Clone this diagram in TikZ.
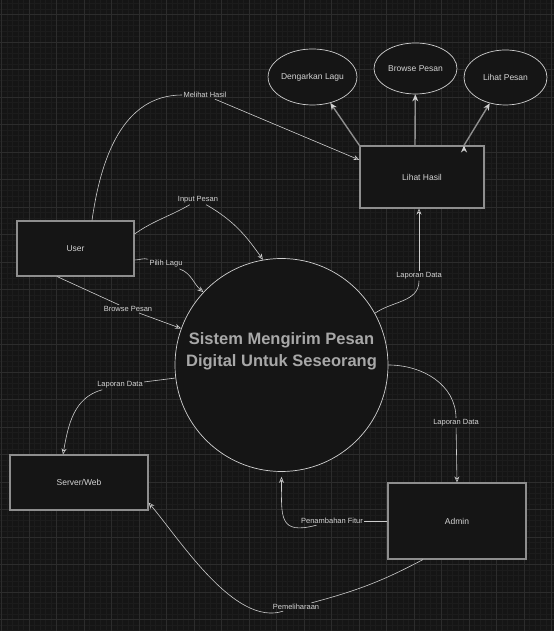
\documentclass[tikz,border=0pt]{standalone}
\usepackage{fontspec}
\setmainfont{Liberation Sans}
\usepackage{tikz}
\usetikzlibrary{arrows.meta,shapes.geometric}

\definecolor{bgc}{HTML}{151515}
\definecolor{gridmaj}{HTML}{2C2C2C}
\definecolor{gridmin}{HTML}{1C1C1C}
\definecolor{boxline}{HTML}{8E8E8E}
\definecolor{ovalline}{HTML}{D0D0D0}
\definecolor{flowline}{HTML}{CDCDCD}
\definecolor{txt}{HTML}{D4D4D4}
\definecolor{titletxt}{HTML}{A8A8A8}

\tikzset{
  entity/.style={draw=boxline,line width=1.1pt,fill=bgc,text=txt,
    font=\fontsize{8.5}{10}\selectfont,inner sep=0pt},
  oval/.style={ellipse,draw=ovalline,line width=0.7pt,fill=bgc,text=txt,
    font=\fontsize{8.5}{10}\selectfont,inner sep=0pt,minimum width=83pt},
  bubble/.style={circle,draw=ovalline,line width=0.7pt,fill=bgc,
    minimum size=213pt,inner sep=0pt},
  titletext/.style={text=titletxt,align=center,
    font=\fontsize{16.5}{22}\selectfont\bfseries},
  lbl/.style={text=txt,font=\fontsize{7.5}{9}\selectfont,inner sep=1.2pt},
  flow/.style={draw=flowline,line width=0.6pt},
  branch/.style={draw=boxline,line width=1.4pt,
    -{Stealth[length=7pt,width=6pt,color=ovalline]}}
}

\begin{document}
\begin{tikzpicture}[x=1pt,y=1pt,>={Stealth[length=6pt,width=5pt]}]
		\fill[bgc] (0,0) rectangle (554,631);
		\useasboundingbox (0,0) rectangle (554,631);
		\draw[gridmin,line width=0.4pt,shift={(1.5,11.5)},step=5.5pt] (-1.5,-11.5) grid (552.5,619.5);
		\draw[gridmaj,line width=0.6pt,shift={(1.5,11.5)},step=27.5pt] (-1.5,-11.5) grid (552.5,619.5);
		%
		\node[entity,minimum width=117pt,minimum height=55pt] (user) at (75.5,382.5) {User};
		\node[entity,minimum width=124pt,minimum height=62pt] (lihat) at (422,454) {Lihat Hasil};
		\node[entity,minimum width=138pt,minimum height=55pt] (server) at (79,148.5) {Server/Web};
		\node[entity,minimum width=138pt,minimum height=76pt] (admin) at (457,110) {Admin};
		\node[oval,minimum height=56pt] (dengar) at (312.5,554) {Dengarkan Lagu};
		\node[oval,minimum height=51pt] (browse) at (415.5,562.5) {Browse Pesan};
		\node[oval,minimum height=55pt] (lpesan) at (505.5,553.5) {Lihat Pesan};
		\node[bubble,label={[titletext,yshift=14pt]center:{Sistem Mengirim Pesan\\Digital Untuk Seseorang}}] (sistem) at (281.5,266) {};
		%
		% labels on the flows
		\node[lbl] (mh) at (205,536) {Melihat Hasil};
		\node[lbl] (ip) at (198,431) {Input Pesan};
		\node[lbl] (pl) at (166,367) {Pilih Lagu};
		\node[lbl] (bp) at (128,322) {Browse Pesan};
		\node[lbl] (ld1) at (419,355) {Laporan Data};
		\node[lbl] (ld2) at (120,246) {Laporan Data};
		\node[lbl] (ld3) at (456,208) {Laporan Data};
		\node[lbl] (pf) at (332,110) {Penambahan Fitur};
		\node[lbl] (pm) at (296,24) {Pemeliharaan};
		%
		\path[flow]
		% from user
		([xshift=16.5pt]user.north) edge[out=82,in=180] (mh)
		(mh) edge[->] ([yshift=17pt]lihat.west)
		([yshift=14.5pt]user.east) edge[out=35,in=210] (ip)
		(ip) edge[->,out=-30,in=125] (sistem.100)
		([yshift=-11.5pt]user.east) edge[out=0,in=165] (pl)
		(pl) edge[->,out=-20,in=140] (sistem.137)
		([xshift=-18.5pt]user.south) edge (bp)
		(bp) edge[->] (sistem.160)
		% from sistem
		(sistem.29) edge[out=35,in=-90] (ld1)
		(ld1) edge[->] (ld1 |- lihat.south)
		(sistem.187) edge (ld2)
		(ld2) edge[->,out=195,in=80] ([xshift=-16pt]server.north)
		(sistem.east) edge[out=0,in=90] (ld3)
		(ld3) edge[->] (admin.north)
		% from admin
		(admin.west) edge (pf)
		(pf) edge[->,out=195,in=-90,looseness=1.7] ([yshift=-5pt]sistem.south)
		([xshift=-34pt]admin.south) edge[out=208,in=15] (pm)
		(pm) edge[->,out=198,in=-50,looseness=0.75] ([yshift=8pt]server.south east);
		%
		% lihat hasil branches
		\path[branch]
		(lihat.north west) edge (dengar)
		([xshift=-7pt]lihat.north) edge (browse)
		([xshift=42pt]lihat.north) edge (lpesan);
\end{tikzpicture}
\end{document}
